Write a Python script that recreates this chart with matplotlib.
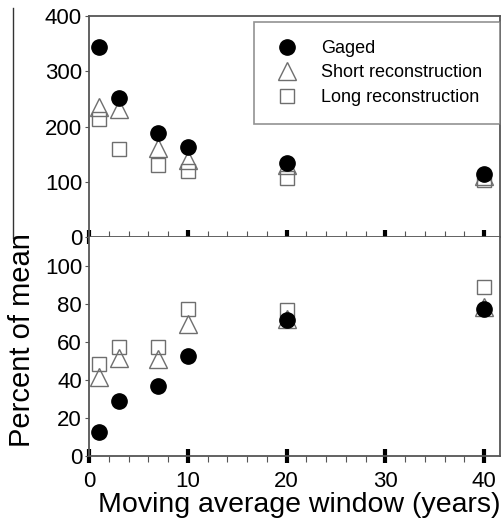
import numpy as np
import matplotlib.pyplot as plt
from matplotlib.lines import Line2D
from matplotlib.ticker import MultipleLocator

plt.rcParams['font.family'] = ['Liberation Sans', 'DejaVu Sans']

window = [1, 3, 7, 10, 20, 40]

# top panel
gaged_top = [343, 251, 189, 162, 134, 114]
short_top = [236, 231, 161, 140, 130, 110]
long_top = [213, 160, 130, 119, 107, 104]

# bottom panel
gaged_bot = [12.6, 29, 37, 52.6, 71.6, 77]
short_bot = [41.7, 51.5, 51, 69.5, 72, 78]
long_bot = [48.4, 57, 57.5, 77, 76.7, 89]

spine_c = "#555555"
open_c = "#6e6e6e"

fig = plt.figure(figsize=(5.02, 5.24), dpi=100)
ax1 = fig.add_axes([89/502, 1-237/524, (500-89)/502, (237-16)/524])
ax2 = fig.add_axes([89/502, 1-456/524, (500-89)/502, (456-237)/524])


def draw(ax, g, s, l):
    ax.plot(window, l, ls="none", marker="s", ms=10.5, mfc="none", mec=open_c, mew=1.0,
            label="Long reconstruction", zorder=3)
    ax.plot(window, s, ls="none", marker="^", ms=13, mfc="none", mec=open_c, mew=1.0,
            label="Short reconstruction", zorder=3)
    ax.plot(window, g, ls="none", marker="o", ms=11, color="black",
            label="Gaged", zorder=4)
    ax.set_xlim(0, 41.6)
    ax.xaxis.set_major_locator(MultipleLocator(10))
    ax.xaxis.set_minor_locator(MultipleLocator(2))
    for sp in ax.spines.values():
        sp.set_color(spine_c)
        sp.set_linewidth(1.3)
    ax.tick_params(axis="y", labelsize=16, length=3, width=0.8, color=spine_c, pad=2)
    ax.tick_params(axis="x", which="major", labelsize=16, length=10, width=3,
                   direction="inout", color="black")
    ax.tick_params(axis="x", which="minor", length=4, width=0.8, direction="out",
                   color=spine_c)


draw(ax1, gaged_top, short_top, long_top)
ax1.set_ylim(0, 400)
ax1.set_yticks([0, 100, 200, 300, 400])
ax1.tick_params(axis="x", which="both", labelbottom=False)
ax1.tick_params(axis="x", which="minor", direction="in")

draw(ax2, gaged_bot, short_bot, long_bot)
ax2.set_ylim(0, 115)
ax2.set_yticks([0, 20, 40, 60, 80, 100])
ax2.spines["top"].set_visible(False)
ax2.set_xticks([0, 10, 20, 30, 40])
ax2.tick_params(axis="x", pad=6)

handles, labels = ax1.get_legend_handles_labels()
leg = ax1.legend(handles[::-1], labels[::-1], loc="upper right",
                 bbox_to_anchor=(1.0, 0.973), fontsize=13, frameon=True,
                 fancybox=False, edgecolor="#777777", borderpad=1.0,
                 labelspacing=0.41, handletextpad=1.1, borderaxespad=0.0,
                 handlelength=1.6)
leg.get_frame().set_linewidth(1.2)

fig.text(0.044, 1-340/524, "Percent of mean", rotation=90, fontsize=21,
         ha="center", va="center")
fig.text((97+501)/2/502, 1-505/524, "Moving average window (years)", fontsize=20.5,
         ha="center", va="center")

# stray vertical rule on the left side of the original figure
fig.add_artist(Line2D([13/502, 13/502], [1-8/524, 1-238/524], color="#333333", lw=1.0))

fig.savefig("out.png", dpi=100)
